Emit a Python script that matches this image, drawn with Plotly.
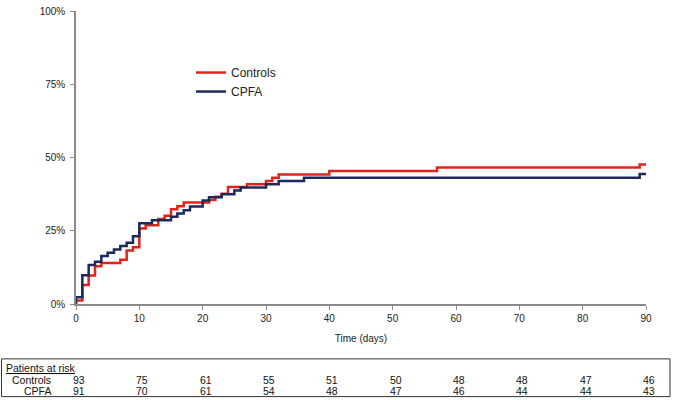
import plotly.graph_objects as go

# ---- data ----
controls_days = [0, 0, 1, 2, 3, 4, 7, 8, 9, 10, 11, 13, 14, 15, 16, 17, 21, 22, 23, 24, 27, 30, 31, 32, 40, 57, 89, 90]
controls_pct = [0.0, 1.2, 6.5, 9.7, 12.9, 14.0, 15.1, 18.3, 19.4, 25.8, 26.9, 29.0, 30.1, 32.3, 33.4, 34.6, 35.5, 36.6, 37.6, 39.9, 40.9, 42.0, 43.1, 44.2, 45.4, 46.6, 47.6, 47.6]
cpfa_days = [0, 0, 1, 2, 3, 4, 5, 6, 7, 8, 9, 10, 12, 15, 16, 17, 18, 20, 21, 23, 25, 26, 30, 32, 36, 89, 90]
cpfa_pct = [0.0, 2.3, 9.8, 13.3, 14.4, 16.4, 17.5, 18.6, 19.8, 20.9, 23.1, 27.6, 28.6, 29.8, 30.9, 32.0, 33.3, 35.3, 36.4, 37.5, 38.7, 39.8, 40.9, 42.0, 43.1, 44.4, 44.4]

risk_times = [0, 10, 20, 30, 40, 50, 60, 70, 80, 90]
risk_controls = [93, 75, 61, 55, 51, 50, 48, 48, 47, 46]
risk_cpfa = [91, 70, 61, 54, 48, 47, 46, 44, 44, 43]

x_ticks = [0, 10, 20, 30, 40, 50, 60, 70, 80, 90]
y_ticks = [0, 25, 50, 75, 100]
y_tick_labels = ["0%", "25%", "50%", "75%", "100%"]

RED = "#E2231A"
NAVY = "#1B2A5A"
FONT = "Liberation Sans, Arial, sans-serif"

W, H = 675, 400
L, R, T, B = 76, 29, 5, 96
PW, PH = W - L - R, H - T - B


def px_x(px):
    return (px - L) / PW


def px_y(py):
    return (H - B - py) / PH


fig = go.Figure()
fig.add_trace(go.Scatter(x=controls_days, y=controls_pct, mode="lines", name="Controls",
                         line=dict(color=RED, width=2.5, shape="hv")))
fig.add_trace(go.Scatter(x=cpfa_days, y=cpfa_pct, mode="lines", name="CPFA",
                         line=dict(color=NAVY, width=2.5, shape="hv")))

axis_color = "#8a8a8a"
fig.update_xaxes(range=[0, 90], tickvals=x_ticks, showgrid=False, zeroline=False,
                 showline=True, linecolor=axis_color, linewidth=1.5,
                 ticks="outside", ticklen=4, tickcolor=axis_color,
                 tickfont=dict(family=FONT, size=10, color="#222"),
                 ticklabeloverflow="allow",
                 title=dict(text="Time (days)", font=dict(family=FONT, size=10, color="#222"), standoff=12),
                 fixedrange=True)
fig.update_yaxes(range=[0, 100], tickvals=y_ticks, ticktext=y_tick_labels, showgrid=False,
                 zeroline=False, showline=True, linecolor=axis_color, linewidth=1.5,
                 ticks="outside", ticklen=4, tickcolor=axis_color,
                 ticklabeloverflow="allow", ticklabelstandoff=3,
                 tickfont=dict(family=FONT, size=10, color="#222"), fixedrange=True)

# Patients at risk table
TF = dict(family=FONT, size=10.5, color="#111")
shapes = [dict(type="rect", xref="paper", yref="paper",
               x0=px_x(1.5), x1=px_x(670), y0=px_y(398.5), y1=px_y(360),
               line=dict(color="#333", width=1), fillcolor="rgba(0,0,0,0)")]
ann = [dict(text="<u>Patients at risk</u>", xref="paper", yref="paper",
            x=px_x(4), y=px_y(369), xanchor="left", yanchor="middle", showarrow=False, font=TF),
       dict(text="Controls", xref="paper", yref="paper", x=px_x(53), y=px_y(381.5),
            xanchor="right", yanchor="middle", showarrow=False, font=TF),
       dict(text="CPFA", xref="paper", yref="paper", x=px_x(53), y=px_y(393),
            xanchor="right", yanchor="middle", showarrow=False, font=TF)]
for t, c, p in zip(risk_times, risk_controls, risk_cpfa):
    ann.append(dict(text=str(c), xref="x", yref="paper", x=t, y=px_y(381.5), xanchor="center",
                    xshift=3, yanchor="middle", showarrow=False, font=TF))
    ann.append(dict(text=str(p), xref="x", yref="paper", x=t, y=px_y(393), xanchor="center",
                    xshift=3, yanchor="middle", showarrow=False, font=TF))

fig.update_layout(
    width=W, height=H, margin=dict(l=L, r=R, t=T, b=B, pad=0),
    paper_bgcolor="white", plot_bgcolor="white",
    showlegend=True,
    legend=dict(x=px_x(191), y=px_y(53), xanchor="left", yanchor="top",
                bgcolor="rgba(0,0,0,0)", itemwidth=30, tracegroupgap=0,
                font=dict(family=FONT, size=12, color="#222")),
    shapes=shapes, annotations=ann,
)

fig.write_html("out.html", config={"displayModeBar": False},
               post_script="document.body.style.margin='0';")
